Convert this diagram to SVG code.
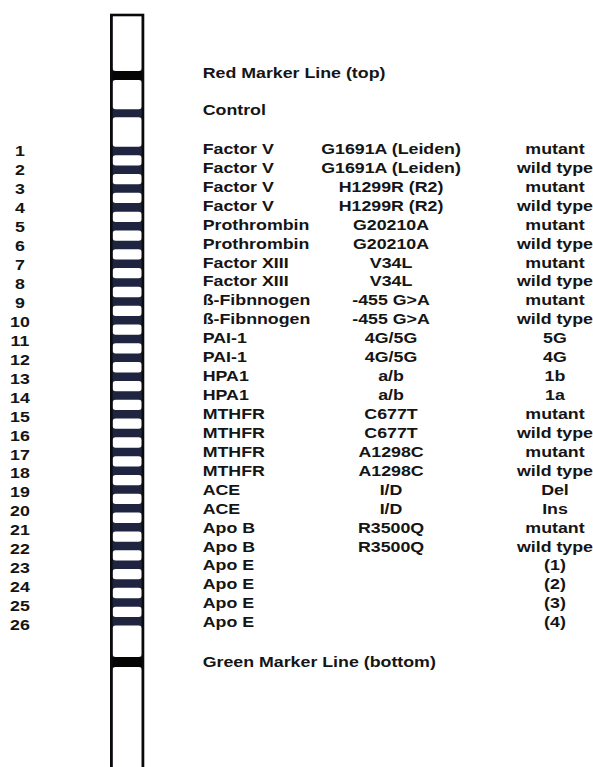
<svg xmlns="http://www.w3.org/2000/svg" width="593" height="767" viewBox="0 0 593 767">
<defs>
<style>
.t{font-family:"Liberation Sans",Arial,sans-serif;font-weight:bold;font-size:14px;fill:#151515}
.m{text-anchor:middle}
.win{fill:#ffffff}
.band{fill:#1f2440}
.mark{fill:#050505}
</style>
</defs>
<rect x="0" y="0" width="593" height="767" fill="#ffffff"/>
<g id="strip">
<rect class="band" x="112" y="15" width="30" height="752"/>
<rect class="win" x="112.6" y="14" width="29.1" height="57" rx="3"/>
<rect class="mark" x="112" y="71" width="30" height="9"/>
<rect class="win" x="112.6" y="80" width="29.1" height="29.3" rx="3"/>
<rect class="win" x="112.6" y="117.3" width="29.1" height="29.4" rx="3"/>
<rect class="win" x="112.6" y="155.2" width="29.1" height="10.3" rx="3"/>
<rect class="win" x="112.6" y="174.01" width="29.1" height="10.3" rx="3"/>
<rect class="win" x="112.6" y="192.82" width="29.1" height="10.3" rx="3"/>
<rect class="win" x="112.6" y="211.63" width="29.1" height="10.3" rx="3"/>
<rect class="win" x="112.6" y="230.44" width="29.1" height="10.3" rx="3"/>
<rect class="win" x="112.6" y="249.25" width="29.1" height="10.3" rx="3"/>
<rect class="win" x="112.6" y="268.06" width="29.1" height="10.3" rx="3"/>
<rect class="win" x="112.6" y="286.87" width="29.1" height="10.3" rx="3"/>
<rect class="win" x="112.6" y="305.68" width="29.1" height="10.3" rx="3"/>
<rect class="win" x="112.6" y="324.49" width="29.1" height="10.3" rx="3"/>
<rect class="win" x="112.6" y="343.3" width="29.1" height="10.3" rx="3"/>
<rect class="win" x="112.6" y="362.11" width="29.1" height="10.3" rx="3"/>
<rect class="win" x="112.6" y="380.92" width="29.1" height="10.3" rx="3"/>
<rect class="win" x="112.6" y="399.73" width="29.1" height="10.3" rx="3"/>
<rect class="win" x="112.6" y="418.54" width="29.1" height="10.3" rx="3"/>
<rect class="win" x="112.6" y="437.35" width="29.1" height="10.3" rx="3"/>
<rect class="win" x="112.6" y="456.16" width="29.1" height="10.3" rx="3"/>
<rect class="win" x="112.6" y="474.97" width="29.1" height="10.3" rx="3"/>
<rect class="win" x="112.6" y="493.78" width="29.1" height="10.3" rx="3"/>
<rect class="win" x="112.6" y="512.59" width="29.1" height="10.3" rx="3"/>
<rect class="win" x="112.6" y="531.4" width="29.1" height="10.3" rx="3"/>
<rect class="win" x="112.6" y="550.21" width="29.1" height="10.3" rx="3"/>
<rect class="win" x="112.6" y="569.02" width="29.1" height="10.3" rx="3"/>
<rect class="win" x="112.6" y="587.83" width="29.1" height="10.3" rx="3"/>
<rect class="win" x="112.6" y="606.64" width="29.1" height="10.3" rx="3"/>
<rect class="win" x="112.6" y="625.45" width="29.1" height="31.55" rx="3"/>
<rect class="mark" x="112" y="657" width="30" height="10"/>
<rect class="win" x="112.6" y="667" width="29.1" height="105" rx="3"/>
<rect x="111.3" y="15" width="31.7" height="760" fill="none" stroke="#0a0a0a" stroke-width="2.6"/>
</g>
<g id="labels" transform="scale(1.27,1)">
<g id="marker-top"><text class="t" x="159.6" y="78.3">Red Marker Line (top)</text></g>
<g id="control"><text class="t" x="159.6" y="115">Control</text></g>
<g id="row-1"><text class="t m" x="15.7" y="156">1</text><text class="t" x="159.6" y="154">Factor V</text><text class="t m" x="307.9" y="154">G1691A (Leiden)</text><text class="t m" x="437" y="154">mutant</text></g>
<g id="row-2"><text class="t m" x="15.7" y="174.97">2</text><text class="t" x="159.6" y="172.93">Factor V</text><text class="t m" x="307.9" y="172.93">G1691A (Leiden)</text><text class="t m" x="437" y="172.93">wild type</text></g>
<g id="row-3"><text class="t m" x="15.7" y="193.94">3</text><text class="t" x="159.6" y="191.86">Factor V</text><text class="t m" x="307.9" y="191.86">H1299R (R2)</text><text class="t m" x="437" y="191.86">mutant</text></g>
<g id="row-4"><text class="t m" x="15.7" y="212.91">4</text><text class="t" x="159.6" y="210.79">Factor V</text><text class="t m" x="307.9" y="210.79">H1299R (R2)</text><text class="t m" x="437" y="210.79">wild type</text></g>
<g id="row-5"><text class="t m" x="15.7" y="231.88">5</text><text class="t" x="159.6" y="229.72">Prothrombin</text><text class="t m" x="307.9" y="229.72">G20210A</text><text class="t m" x="437" y="229.72">mutant</text></g>
<g id="row-6"><text class="t m" x="15.7" y="250.85">6</text><text class="t" x="159.6" y="248.65">Prothrombin</text><text class="t m" x="307.9" y="248.65">G20210A</text><text class="t m" x="437" y="248.65">wild type</text></g>
<g id="row-7"><text class="t m" x="15.7" y="269.82">7</text><text class="t" x="159.6" y="267.58">Factor XIII</text><text class="t m" x="307.9" y="267.58">V34L</text><text class="t m" x="437" y="267.58">mutant</text></g>
<g id="row-8"><text class="t m" x="15.7" y="288.79">8</text><text class="t" x="159.6" y="286.51">Factor XIII</text><text class="t m" x="307.9" y="286.51">V34L</text><text class="t m" x="437" y="286.51">wild type</text></g>
<g id="row-9"><text class="t m" x="15.7" y="307.76">9</text><text class="t" x="159.6" y="305.44">ß-Fibnnogen</text><text class="t m" x="307.9" y="305.44">-455 G&gt;A</text><text class="t m" x="437" y="305.44">mutant</text></g>
<g id="row-10"><text class="t m" x="15.7" y="326.73">10</text><text class="t" x="159.6" y="324.37">ß-Fibnnogen</text><text class="t m" x="307.9" y="324.37">-455 G&gt;A</text><text class="t m" x="437" y="324.37">wild type</text></g>
<g id="row-11"><text class="t m" x="15.7" y="345.7">11</text><text class="t" x="159.6" y="343.3">PAI-1</text><text class="t m" x="307.9" y="343.3">4G/5G</text><text class="t m" x="437" y="343.3">5G</text></g>
<g id="row-12"><text class="t m" x="15.7" y="364.67">12</text><text class="t" x="159.6" y="362.23">PAI-1</text><text class="t m" x="307.9" y="362.23">4G/5G</text><text class="t m" x="437" y="362.23">4G</text></g>
<g id="row-13"><text class="t m" x="15.7" y="383.64">13</text><text class="t" x="159.6" y="381.16">HPA1</text><text class="t m" x="307.9" y="381.16">a/b</text><text class="t m" x="437" y="381.16">1b</text></g>
<g id="row-14"><text class="t m" x="15.7" y="402.61">14</text><text class="t" x="159.6" y="400.09">HPA1</text><text class="t m" x="307.9" y="400.09">a/b</text><text class="t m" x="437" y="400.09">1a</text></g>
<g id="row-15"><text class="t m" x="15.7" y="421.58">15</text><text class="t" x="159.6" y="419.02">MTHFR</text><text class="t m" x="307.9" y="419.02">C677T</text><text class="t m" x="437" y="419.02">mutant</text></g>
<g id="row-16"><text class="t m" x="15.7" y="440.55">16</text><text class="t" x="159.6" y="437.95">MTHFR</text><text class="t m" x="307.9" y="437.95">C677T</text><text class="t m" x="437" y="437.95">wild type</text></g>
<g id="row-17"><text class="t m" x="15.7" y="459.52">17</text><text class="t" x="159.6" y="456.88">MTHFR</text><text class="t m" x="307.9" y="456.88">A1298C</text><text class="t m" x="437" y="456.88">mutant</text></g>
<g id="row-18"><text class="t m" x="15.7" y="478.49">18</text><text class="t" x="159.6" y="475.81">MTHFR</text><text class="t m" x="307.9" y="475.81">A1298C</text><text class="t m" x="437" y="475.81">wild type</text></g>
<g id="row-19"><text class="t m" x="15.7" y="497.46">19</text><text class="t" x="159.6" y="494.74">ACE</text><text class="t m" x="307.9" y="494.74">I/D</text><text class="t m" x="437" y="494.74">Del</text></g>
<g id="row-20"><text class="t m" x="15.7" y="516.43">20</text><text class="t" x="159.6" y="513.67">ACE</text><text class="t m" x="307.9" y="513.67">I/D</text><text class="t m" x="437" y="513.67">Ins</text></g>
<g id="row-21"><text class="t m" x="15.7" y="535.4">21</text><text class="t" x="159.6" y="532.6">Apo B</text><text class="t m" x="307.9" y="532.6">R3500Q</text><text class="t m" x="437" y="532.6">mutant</text></g>
<g id="row-22"><text class="t m" x="15.7" y="554.37">22</text><text class="t" x="159.6" y="551.53">Apo B</text><text class="t m" x="307.9" y="551.53">R3500Q</text><text class="t m" x="437" y="551.53">wild type</text></g>
<g id="row-23"><text class="t m" x="15.7" y="573.34">23</text><text class="t" x="159.6" y="570.46">Apo E</text><text class="t m" x="437" y="570.46">(1)</text></g>
<g id="row-24"><text class="t m" x="15.7" y="592.31">24</text><text class="t" x="159.6" y="589.39">Apo E</text><text class="t m" x="437" y="589.39">(2)</text></g>
<g id="row-25"><text class="t m" x="15.7" y="611.28">25</text><text class="t" x="159.6" y="608.32">Apo E</text><text class="t m" x="437" y="608.32">(3)</text></g>
<g id="row-26"><text class="t m" x="15.7" y="630.25">26</text><text class="t" x="159.6" y="627.25">Apo E</text><text class="t m" x="437" y="627.25">(4)</text></g>
<g id="marker-bottom"><text class="t" x="159.6" y="667">Green Marker Line (bottom)</text></g>
</g>
<g id="connectors"/>
</svg>
